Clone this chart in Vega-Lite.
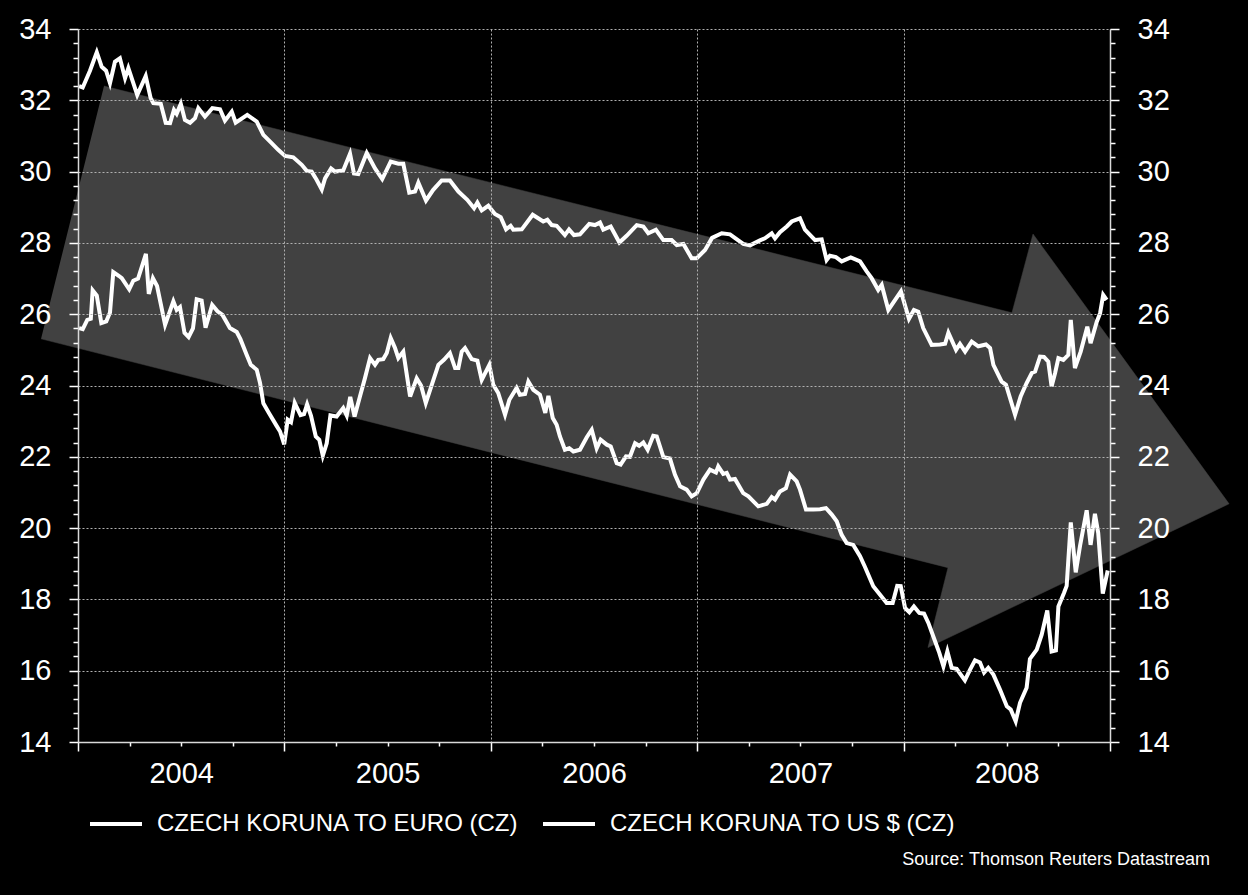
{
"$schema": "https://vega.github.io/schema/vega-lite/v6.json",
"width": 1032, "height": 713,
"autosize": "none",
"padding": {"left": 78, "top": 29, "right": 138, "bottom": 153},
"background": "black",
"title": {"text": "Source: Thomson Reuters Datastream", "orient": "bottom", "anchor": "end", "frame": "group", "fontSize": 18, "fontWeight": "normal", "font": "Liberation Sans", "color": "white", "offset": 15, "dx": 100},
"datasets": {
"arrow": [{"i":1,"t":2004.126,"v":32.40},{"i":2,"t":2008.525,"v":26.04},{"i":3,"t":2008.627,"v":28.25},{"i":4,"t":2009.577,"v":20.68},{"i":5,"t":2008.118,"v":16.65},{"i":6,"t":2008.215,"v":18.89},{"i":7,"t":2003.821,"v":25.31}],
"eur": [{"t":2004.005,"v":32.40},{"t":2004.023,"v":32.36},{"t":2004.058,"v":32.83},{"t":2004.091,"v":33.35},{"t":2004.115,"v":32.94},{"t":2004.136,"v":32.83},{"t":2004.155,"v":32.48},{"t":2004.179,"v":33.08},{"t":2004.203,"v":33.18},{"t":2004.228,"v":32.62},{"t":2004.244,"v":32.9},{"t":2004.287,"v":32.15},{"t":2004.328,"v":32.68},{"t":2004.352,"v":32.06},{"t":2004.365,"v":31.92},{"t":2004.401,"v":31.9},{"t":2004.425,"v":31.37},{"t":2004.446,"v":31.36},{"t":2004.465,"v":31.73},{"t":2004.478,"v":31.62},{"t":2004.498,"v":31.9},{"t":2004.518,"v":31.45},{"t":2004.543,"v":31.37},{"t":2004.567,"v":31.5},{"t":2004.583,"v":31.78},{"t":2004.615,"v":31.54},{"t":2004.651,"v":31.78},{"t":2004.688,"v":31.75},{"t":2004.712,"v":31.43},{"t":2004.745,"v":31.68},{"t":2004.764,"v":31.37},{"t":2004.820,"v":31.59},{"t":2004.849,"v":31.47},{"t":2004.866,"v":31.4},{"t":2004.898,"v":31.03},{"t":2004.938,"v":30.8},{"t":2004.970,"v":30.61},{"t":2005.003,"v":30.44},{"t":2005.043,"v":30.4},{"t":2005.084,"v":30.19},{"t":2005.108,"v":30.02},{"t":2005.132,"v":30.0},{"t":2005.156,"v":29.77},{"t":2005.181,"v":29.5},{"t":2005.197,"v":29.81},{"t":2005.226,"v":30.09},{"t":2005.245,"v":30.0},{"t":2005.285,"v":30.03},{"t":2005.318,"v":30.5},{"t":2005.337,"v":29.95},{"t":2005.358,"v":29.93},{"t":2005.399,"v":30.52},{"t":2005.439,"v":30.09},{"t":2005.474,"v":29.79},{"t":2005.515,"v":30.28},{"t":2005.552,"v":30.22},{"t":2005.576,"v":30.22},{"t":2005.605,"v":29.41},{"t":2005.633,"v":29.44},{"t":2005.649,"v":29.69},{"t":2005.686,"v":29.19},{"t":2005.721,"v":29.49},{"t":2005.762,"v":29.75},{"t":2005.802,"v":29.75},{"t":2005.843,"v":29.44},{"t":2005.886,"v":29.21},{"t":2005.919,"v":28.97},{"t":2005.935,"v":29.13},{"t":2005.956,"v":28.91},{"t":2005.988,"v":29.04},{"t":2006.020,"v":28.81},{"t":2006.048,"v":28.72},{"t":2006.074,"v":28.38},{"t":2006.096,"v":28.48},{"t":2006.109,"v":28.37},{"t":2006.150,"v":28.38},{"t":2006.203,"v":28.79},{"t":2006.254,"v":28.6},{"t":2006.274,"v":28.65},{"t":2006.295,"v":28.5},{"t":2006.319,"v":28.48},{"t":2006.359,"v":28.22},{"t":2006.379,"v":28.38},{"t":2006.403,"v":28.22},{"t":2006.432,"v":28.24},{"t":2006.477,"v":28.53},{"t":2006.505,"v":28.5},{"t":2006.529,"v":28.57},{"t":2006.545,"v":28.37},{"t":2006.581,"v":28.46},{"t":2006.623,"v":28.01},{"t":2006.658,"v":28.2},{"t":2006.707,"v":28.5},{"t":2006.739,"v":28.46},{"t":2006.763,"v":28.27},{"t":2006.800,"v":28.37},{"t":2006.836,"v":28.08},{"t":2006.876,"v":28.08},{"t":2006.901,"v":27.94},{"t":2006.933,"v":27.97},{"t":2006.973,"v":27.57},{"t":2006.998,"v":27.57},{"t":2007.038,"v":27.8},{"t":2007.072,"v":28.14},{"t":2007.119,"v":28.27},{"t":2007.159,"v":28.24},{"t":2007.199,"v":28.07},{"t":2007.223,"v":27.97},{"t":2007.256,"v":27.93},{"t":2007.304,"v":28.07},{"t":2007.328,"v":28.13},{"t":2007.361,"v":28.27},{"t":2007.377,"v":28.13},{"t":2007.401,"v":28.3},{"t":2007.434,"v":28.46},{"t":2007.458,"v":28.6},{"t":2007.498,"v":28.69},{"t":2007.522,"v":28.37},{"t":2007.571,"v":28.08},{"t":2007.603,"v":28.1},{"t":2007.627,"v":27.52},{"t":2007.643,"v":27.64},{"t":2007.672,"v":27.6},{"t":2007.700,"v":27.48},{"t":2007.744,"v":27.59},{"t":2007.789,"v":27.48},{"t":2007.821,"v":27.2},{"t":2007.845,"v":27.01},{"t":2007.877,"v":26.68},{"t":2007.894,"v":26.82},{"t":2007.926,"v":26.12},{"t":2007.987,"v":26.64},{"t":2008.026,"v":25.87},{"t":2008.050,"v":26.12},{"t":2008.071,"v":26.07},{"t":2008.095,"v":25.61},{"t":2008.136,"v":25.14},{"t":2008.176,"v":25.15},{"t":2008.201,"v":25.17},{"t":2008.217,"v":25.48},{"t":2008.254,"v":25.0},{"t":2008.273,"v":25.17},{"t":2008.298,"v":24.95},{"t":2008.330,"v":25.23},{"t":2008.362,"v":25.1},{"t":2008.399,"v":25.15},{"t":2008.419,"v":25.05},{"t":2008.435,"v":24.58},{"t":2008.475,"v":24.11},{"t":2008.496,"v":24.02},{"t":2008.540,"v":23.18},{"t":2008.567,"v":23.69},{"t":2008.596,"v":24.07},{"t":2008.621,"v":24.35},{"t":2008.637,"v":24.39},{"t":2008.661,"v":24.81},{"t":2008.680,"v":24.8},{"t":2008.701,"v":24.67},{"t":2008.717,"v":23.97},{"t":2008.734,"v":24.35},{"t":2008.750,"v":24.77},{"t":2008.774,"v":24.72},{"t":2008.798,"v":24.86},{"t":2008.810,"v":25.84},{"t":2008.830,"v":24.49},{"t":2008.858,"v":24.95},{"t":2008.890,"v":25.65},{"t":2008.906,"v":25.19},{"t":2008.936,"v":25.79},{"t":2008.952,"v":26.03},{"t":2008.967,"v":26.54},{"t":2008.984,"v":26.4}],
"usd": [{"t":2004.005,"v":25.61},{"t":2004.023,"v":25.58},{"t":2004.045,"v":25.84},{"t":2004.062,"v":25.87},{"t":2004.071,"v":26.67},{"t":2004.091,"v":26.52},{"t":2004.113,"v":25.75},{"t":2004.137,"v":25.8},{"t":2004.155,"v":26.05},{"t":2004.171,"v":27.18},{"t":2004.199,"v":27.07},{"t":2004.212,"v":27.01},{"t":2004.248,"v":26.7},{"t":2004.268,"v":26.94},{"t":2004.291,"v":27.0},{"t":2004.329,"v":27.69},{"t":2004.343,"v":26.57},{"t":2004.363,"v":27.01},{"t":2004.383,"v":26.79},{"t":2004.422,"v":25.7},{"t":2004.462,"v":26.36},{"t":2004.478,"v":26.12},{"t":2004.494,"v":26.2},{"t":2004.516,"v":25.48},{"t":2004.536,"v":25.36},{"t":2004.557,"v":25.6},{"t":2004.575,"v":26.42},{"t":2004.599,"v":26.38},{"t":2004.618,"v":25.62},{"t":2004.650,"v":26.26},{"t":2004.676,"v":26.08},{"t":2004.700,"v":25.98},{"t":2004.736,"v":25.61},{"t":2004.769,"v":25.5},{"t":2004.787,"v":25.3},{"t":2004.817,"v":24.86},{"t":2004.837,"v":24.58},{"t":2004.866,"v":24.44},{"t":2004.882,"v":24.07},{"t":2004.898,"v":23.5},{"t":2004.925,"v":23.23},{"t":2004.963,"v":22.86},{"t":2004.979,"v":22.71},{"t":2004.999,"v":22.35},{"t":2005.016,"v":23.04},{"t":2005.032,"v":22.97},{"t":2005.050,"v":23.51},{"t":2005.078,"v":23.17},{"t":2005.095,"v":23.2},{"t":2005.110,"v":23.47},{"t":2005.129,"v":23.15},{"t":2005.152,"v":22.57},{"t":2005.169,"v":22.48},{"t":2005.186,"v":22.03},{"t":2005.205,"v":22.38},{"t":2005.223,"v":23.16},{"t":2005.253,"v":23.13},{"t":2005.285,"v":23.37},{"t":2005.302,"v":23.16},{"t":2005.319,"v":23.68},{"t":2005.340,"v":23.13},{"t":2005.366,"v":23.69},{"t":2005.390,"v":24.2},{"t":2005.415,"v":24.77},{"t":2005.439,"v":24.58},{"t":2005.455,"v":24.72},{"t":2005.479,"v":24.74},{"t":2005.496,"v":24.91},{"t":2005.515,"v":25.33},{"t":2005.536,"v":25.05},{"t":2005.552,"v":24.77},{"t":2005.576,"v":24.95},{"t":2005.609,"v":23.69},{"t":2005.641,"v":24.2},{"t":2005.662,"v":24.0},{"t":2005.685,"v":23.51},{"t":2005.714,"v":24.02},{"t":2005.746,"v":24.58},{"t":2005.773,"v":24.72},{"t":2005.802,"v":24.91},{"t":2005.827,"v":24.49},{"t":2005.843,"v":24.49},{"t":2005.859,"v":24.95},{"t":2005.875,"v":25.05},{"t":2005.907,"v":24.74},{"t":2005.935,"v":24.7},{"t":2005.956,"v":24.16},{"t":2005.993,"v":24.58},{"t":2006.012,"v":24.02},{"t":2006.036,"v":23.79},{"t":2006.069,"v":23.18},{"t":2006.090,"v":23.6},{"t":2006.125,"v":23.93},{"t":2006.141,"v":23.74},{"t":2006.166,"v":23.76},{"t":2006.182,"v":24.11},{"t":2006.206,"v":23.88},{"t":2006.238,"v":23.74},{"t":2006.264,"v":23.23},{"t":2006.279,"v":23.71},{"t":2006.300,"v":23.09},{"t":2006.319,"v":22.9},{"t":2006.335,"v":22.57},{"t":2006.359,"v":22.2},{"t":2006.380,"v":22.24},{"t":2006.400,"v":22.15},{"t":2006.432,"v":22.2},{"t":2006.465,"v":22.55},{"t":2006.489,"v":22.76},{"t":2006.513,"v":22.24},{"t":2006.532,"v":22.48},{"t":2006.562,"v":22.34},{"t":2006.581,"v":22.29},{"t":2006.610,"v":21.82},{"t":2006.629,"v":21.78},{"t":2006.655,"v":22.01},{"t":2006.674,"v":22.0},{"t":2006.699,"v":22.38},{"t":2006.719,"v":22.31},{"t":2006.739,"v":22.4},{"t":2006.760,"v":22.2},{"t":2006.787,"v":22.59},{"t":2006.804,"v":22.57},{"t":2006.836,"v":21.99},{"t":2006.868,"v":21.95},{"t":2006.892,"v":21.5},{"t":2006.917,"v":21.17},{"t":2006.949,"v":21.08},{"t":2006.973,"v":20.89},{"t":2006.998,"v":20.98},{"t":2007.030,"v":21.36},{"t":2007.062,"v":21.64},{"t":2007.091,"v":21.56},{"t":2007.102,"v":21.73},{"t":2007.126,"v":21.52},{"t":2007.143,"v":21.55},{"t":2007.159,"v":21.36},{"t":2007.183,"v":21.38},{"t":2007.223,"v":20.98},{"t":2007.248,"v":20.89},{"t":2007.296,"v":20.61},{"t":2007.337,"v":20.68},{"t":2007.361,"v":20.87},{"t":2007.377,"v":20.8},{"t":2007.401,"v":21.03},{"t":2007.430,"v":21.12},{"t":2007.450,"v":21.5},{"t":2007.482,"v":21.31},{"t":2007.498,"v":21.08},{"t":2007.527,"v":20.52},{"t":2007.562,"v":20.52},{"t":2007.595,"v":20.53},{"t":2007.624,"v":20.56},{"t":2007.652,"v":20.38},{"t":2007.676,"v":20.19},{"t":2007.700,"v":19.81},{"t":2007.724,"v":19.58},{"t":2007.756,"v":19.53},{"t":2007.789,"v":19.21},{"t":2007.813,"v":18.91},{"t":2007.853,"v":18.37},{"t":2007.886,"v":18.13},{"t":2007.918,"v":17.9},{"t":2007.947,"v":17.9},{"t":2007.969,"v":18.38},{"t":2007.986,"v":18.37},{"t":2008.007,"v":17.76},{"t":2008.028,"v":17.64},{"t":2008.050,"v":17.8},{"t":2008.076,"v":17.62},{"t":2008.099,"v":17.6},{"t":2008.120,"v":17.34},{"t":2008.144,"v":16.96},{"t":2008.173,"v":16.5},{"t":2008.193,"v":16.12},{"t":2008.212,"v":16.54},{"t":2008.233,"v":16.08},{"t":2008.257,"v":16.05},{"t":2008.297,"v":15.73},{"t":2008.322,"v":16.03},{"t":2008.346,"v":16.29},{"t":2008.370,"v":16.23},{"t":2008.390,"v":15.95},{"t":2008.410,"v":16.08},{"t":2008.435,"v":15.89},{"t":2008.467,"v":15.47},{"t":2008.500,"v":15.0},{"t":2008.519,"v":14.91},{"t":2008.543,"v":14.58},{"t":2008.564,"v":15.1},{"t":2008.596,"v":15.52},{"t":2008.612,"v":16.33},{"t":2008.645,"v":16.59},{"t":2008.669,"v":17.01},{"t":2008.696,"v":17.69},{"t":2008.717,"v":16.54},{"t":2008.738,"v":16.57},{"t":2008.750,"v":17.8},{"t":2008.777,"v":18.18},{"t":2008.790,"v":18.38},{"t":2008.810,"v":20.16},{"t":2008.834,"v":18.76},{"t":2008.855,"v":19.51},{"t":2008.887,"v":20.5},{"t":2008.906,"v":19.53},{"t":2008.927,"v":20.4},{"t":2008.943,"v":19.86},{"t":2008.965,"v":18.16},{"t":2008.989,"v":18.81}]
},
"encoding": {
  "x": {"field": "t", "type": "quantitative", "scale": {"domain": [2004, 2009], "nice": false, "zero": false},
    "axis": {"title": null, "zindex": 1, "values": [2004,2004.25,2004.5,2004.75,2005,2005.25,2005.5,2005.75,2006,2006.25,2006.5,2006.75,2007,2007.25,2007.5,2007.75,2008,2008.25,2008.5,2008.75,2009],
      "labelExpr": "datum.value % 1 == 0.5 ? format(floor(datum.value), 'd') : ''",
      "tickSize": {"condition": {"test": "datum.value % 1 == 0", "value": 9}, "value": 4},
      "grid": true,
      "gridOpacity": {"condition": {"test": "datum.value % 1 == 0", "value": 1}, "value": 0},
      "labelFlush": false, "labelOverlap": false, "labelBound": false, "labelPadding": 13}}
},
"layer": [
  {"data": {"name": "arrow"},
   "mark": {"type": "line", "fill": "#414141", "stroke": "#414141", "strokeWidth": 0.5},
   "encoding": {
     "y": {"field": "v", "type": "quantitative", "scale": {"domain": [14, 34], "nice": false, "zero": false},
       "axis": {"orient": "left", "title": null, "zindex": 1,
         "values": [14,14.4,14.8,15.2,15.6,16,16.4,16.8,17.2,17.6,18,18.4,18.8,19.2,19.6,20,20.4,20.8,21.2,21.6,22,22.4,22.8,23.2,23.6,24,24.4,24.8,25.2,25.6,26,26.4,26.8,27.2,27.6,28,28.4,28.8,29.2,29.6,30,30.4,30.8,31.2,31.6,32,32.4,32.8,33.2,33.6,34],
         "labelExpr": "datum.value % 2 == 0 ? format(datum.value, 'd') : ''",
         "tickSize": {"condition": {"test": "datum.value % 2 == 0", "value": 9}, "value": 5},
         "grid": true,
         "gridOpacity": {"condition": {"test": "datum.value % 2 == 0", "value": 1}, "value": 0},
         "labelOverlap": false, "labelBound": false, "labelFlush": false, "labelPadding": 18}},
     "order": {"field": "i", "type": "quantitative"}
   }},
  {"data": {"name": "eur"},
   "mark": {"type": "line", "strokeWidth": 4},
   "encoding": {
     "y": {"field": "v", "type": "quantitative", "scale": {"domain": [14, 34], "nice": false, "zero": false},
       "axis": {"orient": "right", "title": null, "zindex": 2,
         "values": [14,14.4,14.8,15.2,15.6,16,16.4,16.8,17.2,17.6,18,18.4,18.8,19.2,19.6,20,20.4,20.8,21.2,21.6,22,22.4,22.8,23.2,23.6,24,24.4,24.8,25.2,25.6,26,26.4,26.8,27.2,27.6,28,28.4,28.8,29.2,29.6,30,30.4,30.8,31.2,31.6,32,32.4,32.8,33.2,33.6,34],
         "labelExpr": "datum.value % 2 == 0 ? format(datum.value, 'd') : ''",
         "tickSize": {"condition": {"test": "datum.value % 2 == 0", "value": 9}, "value": 5},
         "grid": false,
         "labelOverlap": false, "labelBound": false, "labelFlush": false, "labelPadding": 18}},
     "color": {"datum": "CZECH KORUNA TO EURO (CZ)", "type": "nominal",
       "scale": {"domain": ["CZECH KORUNA TO EURO (CZ)", "CZECH KORUNA TO US $ (CZ)"], "range": ["white", "white"]},
       "legend": {"title": null, "orient": "none", "legendX": 10, "legendY": 767, "direction": "horizontal", "symbolType": "stroke", "symbolSize": 2704, "symbolStrokeWidth": 4, "labelFontSize": 24, "labelColor": "white", "labelFont": "Liberation Sans", "labelOffset": 13, "columnPadding": 15, "labelLimit": 0, "padding": 0}}
   }},
  {"data": {"name": "usd"},
   "mark": {"type": "line", "strokeWidth": 4},
   "encoding": {
     "y": {"field": "v", "type": "quantitative", "scale": {"domain": [14, 34], "nice": false, "zero": false}, "axis": null},
     "color": {"datum": "CZECH KORUNA TO US $ (CZ)", "type": "nominal"}
   }}
],
"resolve": {"scale": {"y": "independent"}, "axis": {"y": "independent"}},
"config": {
  "view": {"stroke": null},
  "axis": {"zindex": 1, "domainColor": "#d9d9d9", "domainWidth": 1.5, "tickColor": "white", "tickWidth": 1.5,
    "labelColor": "white", "labelFont": "Liberation Sans", "labelFontSize": 29,
    "gridColor": "#b0b0b0", "gridDash": [2, 2], "gridWidth": 1}
}
}
